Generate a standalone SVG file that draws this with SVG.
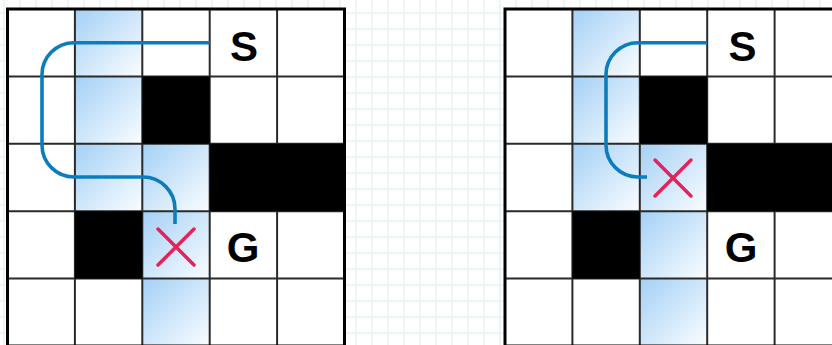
<svg xmlns="http://www.w3.org/2000/svg" width="832" height="345" viewBox="0 0 832 345">
  <defs>
    <pattern id="paper" patternUnits="userSpaceOnUse" x="-4" y="5" width="16" height="16">
      <path d="M0,8 H16 M8,0 V16" stroke="#e8f3f4" stroke-width="1.5" fill="none"/>
    </pattern>
    <linearGradient id="blue" x1="0" y1="0" x2="1" y2="1">
      <stop offset="0" stop-color="#a4d0f5"/>
      <stop offset="1" stop-color="#fafdff"/>
    </linearGradient>
    <style>
      .cell { fill: #ffffff; }
      .vis { fill: url(#blue); }
      .wall { fill: #000000; }
      .lines { stroke: #2a2a2a; stroke-width: 2; fill: none; }
      .border { stroke: #000000; stroke-width: 3; fill: none; }
      .lbl { font-family: "Liberation Sans", Arial, sans-serif; font-weight: bold; font-size: 42px; fill: #000000; text-anchor: middle; }
      .route { stroke: #0b7dbf; stroke-width: 3.6; fill: none; stroke-linecap: butt; }
      .cross { stroke: #e3245c; stroke-width: 3.5; stroke-linecap: round; fill: none; }
    </style>
    <g id="gridlines">
      <path class="lines" d="M67.4,0 V337 M134.8,0 V337 M202.2,0 V337 M269.6,0 V337 M0,67.4 H337 M0,134.8 H337 M0,202.2 H337 M0,269.6 H337"/>
      <rect class="border" x="0" y="0" width="337" height="337"/>
    </g>
  </defs>

  <rect x="0" y="0" width="832" height="345" fill="#ffffff"/>
  <rect x="0" y="0" width="832" height="345" fill="url(#paper)"/>

  <!-- Left grid -->
  <g id="left-grid" transform="translate(7.5,9)">
    <rect class="cell" x="0" y="0" width="337" height="337"/>
    <rect class="vis" x="67.4" y="0" width="67.4" height="67.4"/>
    <rect class="vis" x="67.4" y="67.4" width="67.4" height="67.4"/>
    <rect class="vis" x="67.4" y="134.8" width="67.4" height="67.4"/>
    <rect class="vis" x="134.8" y="134.8" width="67.4" height="67.4"/>
    <rect class="vis" x="134.8" y="202.2" width="67.4" height="67.4"/>
    <rect class="vis" x="134.8" y="269.6" width="67.4" height="67.4"/>
    <use href="#gridlines"/>
    <rect class="wall" x="134.8" y="67.4" width="67.4" height="67.4"/>
    <rect class="wall" x="202.2" y="134.8" width="134.8" height="67.4"/>
    <rect class="wall" x="67.4" y="202.2" width="67.4" height="67.4"/>
  </g>
  <g id="left-start"><text class="lbl" x="244" y="60.5">S</text></g>
  <g id="left-goal"><text class="lbl" x="243" y="262">G</text></g>

  <!-- Right grid -->
  <g id="right-grid" transform="translate(505,9)">
    <rect class="cell" x="0" y="0" width="337" height="337"/>
    <rect class="vis" x="67.4" y="0" width="67.4" height="67.4"/>
    <rect class="vis" x="67.4" y="67.4" width="67.4" height="67.4"/>
    <rect class="vis" x="67.4" y="134.8" width="67.4" height="67.4"/>
    <rect class="vis" x="134.8" y="134.8" width="67.4" height="67.4"/>
    <rect class="vis" x="134.8" y="202.2" width="67.4" height="67.4"/>
    <rect class="vis" x="134.8" y="269.6" width="67.4" height="67.4"/>
    <use href="#gridlines"/>
    <rect class="wall" x="134.8" y="67.4" width="67.4" height="67.4"/>
    <rect class="wall" x="202.2" y="134.8" width="134.8" height="67.4"/>
    <rect class="wall" x="67.4" y="202.2" width="67.4" height="67.4"/>
  </g>
  <g id="right-start"><text class="lbl" x="742.5" y="60.5">S</text></g>
  <g id="right-goal"><text class="lbl" x="741" y="262">G</text></g>

  <!-- Connectors -->
  <g id="connectors">
    <path class="route" d="M209.7,42.7 H74 A32,32 0 0 0 42,74.7 V145 A32,32 0 0 0 74,177 H143 A32,32 0 0 1 175,209 V224"/>
    <path class="route" d="M707.2,42.7 H638 A32,32 0 0 0 606,74.7 V145 A32,32 0 0 0 638,177 H647"/>
  </g>

  <g id="left-blocked">
    <path class="cross" d="M158,229 L194,265 M194,229 L158,265"/>
  </g>
  <g id="right-blocked">
    <path class="cross" d="M655,160 L691,196 M691,160 L655,196"/>
  </g>
</svg>
